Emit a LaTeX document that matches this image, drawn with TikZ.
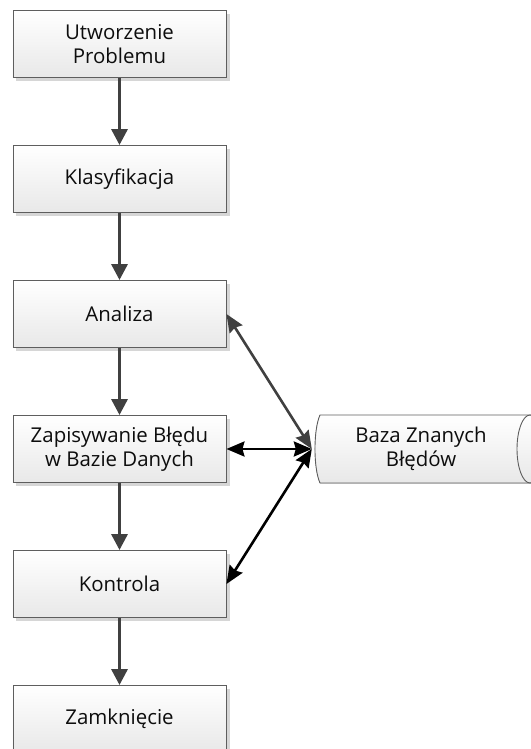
\documentclass[tikz,border=0pt]{standalone}
\usepackage{fontspec}
\setmainfont{Open Sans}
\usetikzlibrary{arrows.meta,shadows}
\definecolor{flowink}{HTML}{404040}
\definecolor{flowedge}{HTML}{5E5E5E}
\definecolor{flowtext}{HTML}{0D0D0D}
\definecolor{flowshade}{HTML}{D6D6D6}
\tikzset{
  txt/.style={align=center, text=flowtext, font=\fontsize{20.5}{23.5}\selectfont},
  proc/.style={txt, draw=flowedge, line width=0.9bp, top color=white, bottom color=black!9,
    minimum width=213bp, minimum height=67bp, inner sep=0pt,
    drop shadow={shadow xshift=3.5bp, shadow yshift=-3.5bp, fill=flowshade, opacity=1}},
  store/.style={txt, minimum width=215bp, minimum height=68bp, inner sep=0pt},
  flow/.style={-{Triangle[length=16bp, width=16bp]}, line width=3.2bp, color=flowink},
  link/.style={{Stealth[length=18bp, width=15bp, inset=2bp]}-{Stealth[length=18bp, width=15bp, inset=2bp]}, line width=2.6bp, color=black},
  glink/.style={link, color=flowink},
}

\begin{document}
\begin{tikzpicture}[x=1bp, y=-1bp]
  \useasboundingbox (0,0) rectangle (531,749);
  \clip (0,0) rectangle (531,749);
  % process steps
  \node[proc] (utw)   at (119.5,44)  {Utworzenie\\Problemu};
  \node[proc] (klas)  at (119.5,179) {Klasyfikacja};
  \node[proc] (anal)  at (119.5,314) {Analiza};
  \node[proc] (zap)   at (119.5,449) {Zapisywanie Błędu\\w Bazie Danych};
  \node[proc] (kontr) at (119.5,584) {Kontrola};
  \node[proc] (zamk)  at (119.5,719) {Zamknięcie};
  % known errors store
  \fill[top color=white, bottom color=black!9] (320,415) -- (545,415) -- (545,483) -- (320,483)
    .. controls (313.3,468) and (313.3,430) .. (320,415) -- cycle;
  \draw[flowedge, line width=0.9bp] (545,415) -- (320,415) .. controls (313.3,430) and (313.3,468) .. (320,483) -- (545,483);
  \draw[flowedge, line width=0.9bp] (530,449) ellipse [x radius=13bp, y radius=34bp];
  \node[store] (baza) at (421,449) {Baza Znanych\\Błędów};
  \foreach \a/\b in {utw/klas, klas/anal, anal/zap, zap/kontr, kontr/zamk}
    \draw[flow] (\a) -- (\b);
  \draw[glink] ([xshift=-1.5bp]baza.west) -- (anal.east);
  \foreach \n in {zap, kontr}
    \draw[link] ([xshift=-1.5bp]baza.west) -- (\n.east);
\end{tikzpicture}
\end{document}
